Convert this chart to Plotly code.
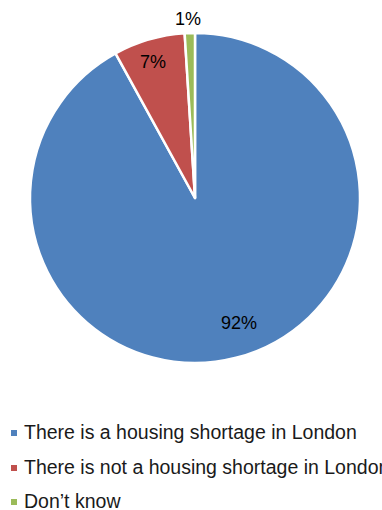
import math
import plotly.graph_objects as go

# Survey responses
labels = [
    "There is a housing shortage in London",
    "There is not a housing shortage in London",
    "Don\u2019t know",
]
values = [92, 7, 1]
colors = ["#4F81BD", "#C0504D", "#9BBB59"]

# Label placement: radial distance (fraction of radius) and angular nudge (degrees)
label_radius = [0.80, 0.86, 1.085]
label_nudge = [-5, -1, -0.4]

W, H = 382, 510
CX, CY, R = 195, 198, 165  # pie centre and radius in pixels

def px(x):
    return x / W

def py(y):
    return 1 - y / H

fig = go.Figure()
fig.add_trace(go.Pie(
    labels=labels,
    values=values,
    sort=False,
    direction="clockwise",
    rotation=0,
    marker=dict(colors=colors, line=dict(color="white", width=2.5)),
    textinfo="none",
    hoverinfo="label+percent",
    showlegend=False,
    domain=dict(x=[px(CX - R), px(CX + R)], y=[py(CY + R), py(CY - R)]),
))

annotations = []
total = sum(values)
cum = 0
for v, rf, nudge in zip(values, label_radius, label_nudge):
    mid = (cum + v / 2) / total * 360 + nudge
    cum += v
    a = math.radians(mid)
    x = CX + rf * R * math.sin(a)
    y = CY - rf * R * math.cos(a)
    annotations.append(dict(
        x=px(x), y=py(y), xref="paper", yref="paper",
        text=f"{round(v / total * 100)}%", showarrow=False,
        xanchor="center", yanchor="middle",
        font=dict(family="Liberation Sans, Arial, sans-serif", size=18, color="#000000"),
    ))

# Legend drawn as square swatches with text
shapes = []
legend_y = [432, 467, 501]
for lab, col, ly in zip(labels, colors, legend_y):
    shapes.append(dict(
        type="rect", xref="paper", yref="paper",
        x0=px(11), x1=px(17), y0=py(ly + 4), y1=py(ly - 2),
        fillcolor=col, line=dict(width=0),
    ))
    annotations.append(dict(
        x=px(22), y=py(ly), xref="paper", yref="paper",
        text=lab, showarrow=False, xanchor="left", yanchor="middle",
        font=dict(family="Liberation Sans, Arial, sans-serif", size=19.5, color="#1a1a1a"),
    ))

fig.update_layout(
    width=W, height=H,
    margin=dict(l=0, r=0, t=0, b=0),
    paper_bgcolor="white",
    plot_bgcolor="white",
    annotations=annotations,
    shapes=shapes,
)

fig.write_html("out.html", config={"displayModeBar": False})
